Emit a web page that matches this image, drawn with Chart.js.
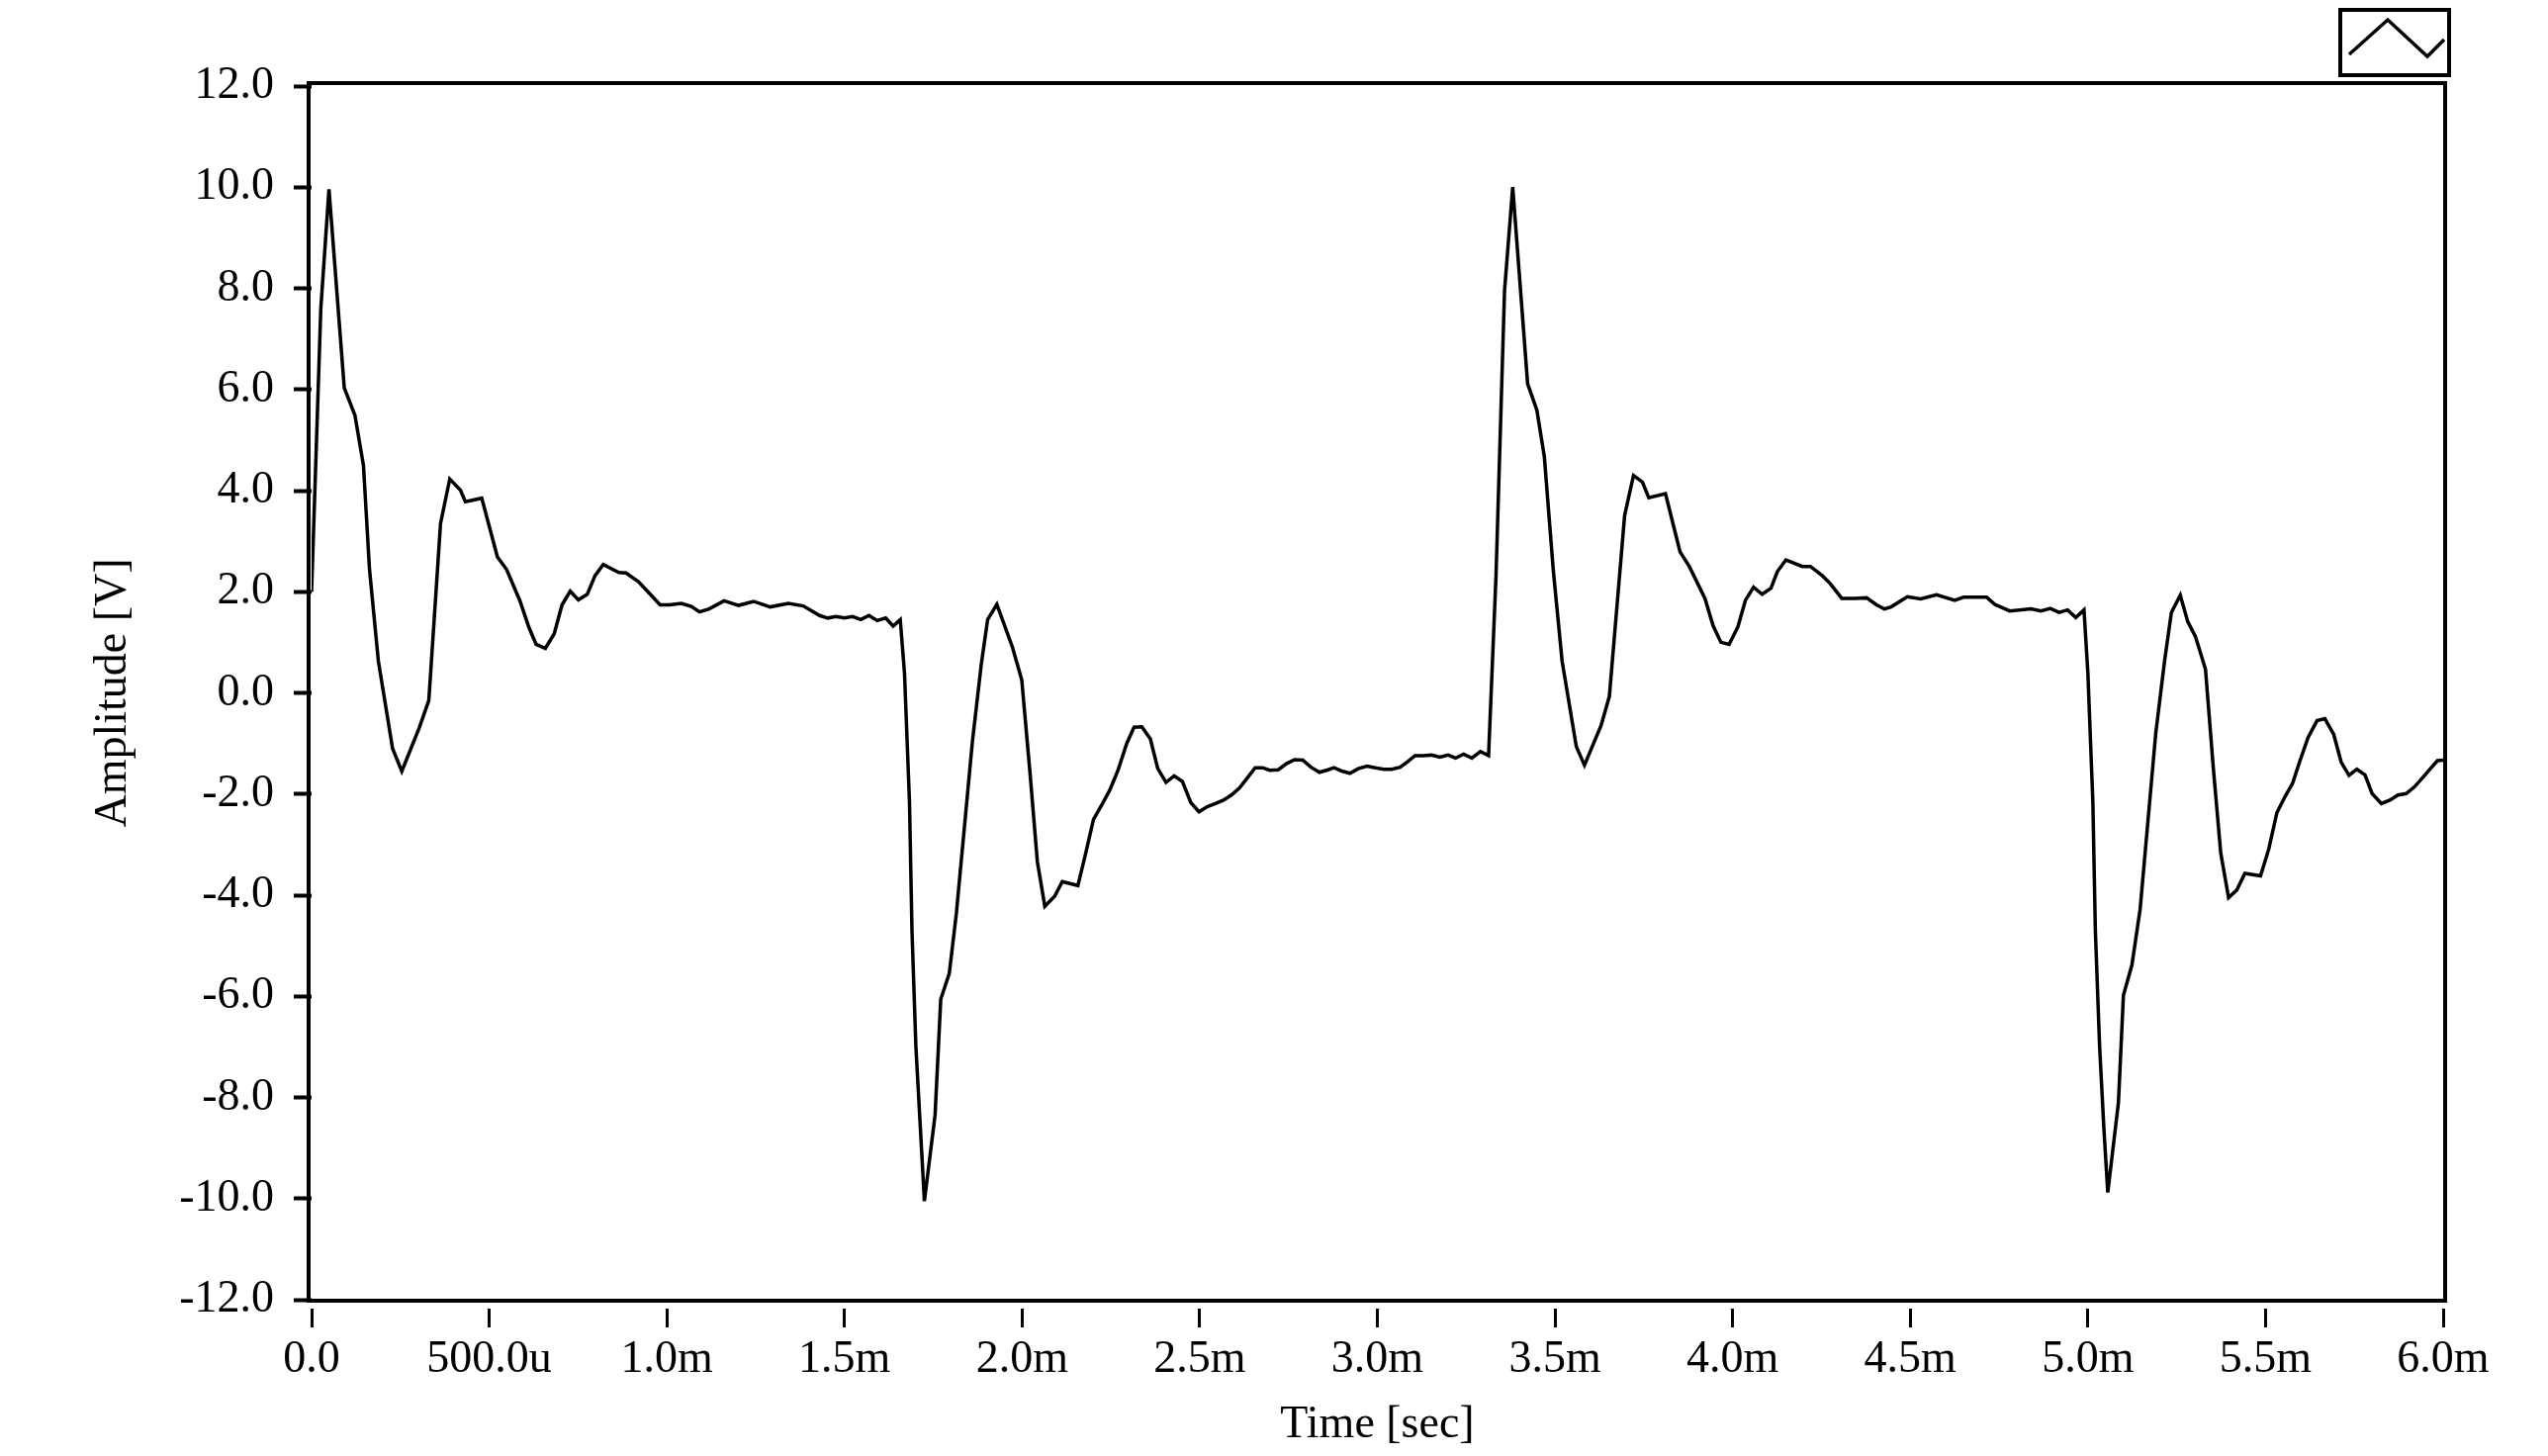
<!DOCTYPE html>
<html lang="en">

<head>
    <meta charset="UTF-8">
    <meta name="viewport" content="width=device-width, initial-scale=1.0">
    <script src="https://cdn.jsdelivr.net/npm/chart.js"></script>
    <title>Amplitude vs Time</title>
    <style>
        html, body { margin: 0; padding: 0; background: #fff; }
        canvas { display: block; }
    </style>
</head>

<body>

    <canvas id="myChart" width="2576" height="1472"></canvas>

    <script>

        // time in ms
        const timeMs = [
            0.000, 0.026, 0.049, 0.092, 0.122, 0.146, 0.163, 0.188, 0.228, 0.254,
            0.303, 0.330, 0.363, 0.389, 0.419, 0.433, 0.479, 0.501, 0.523, 0.549,
            0.586, 0.612, 0.632, 0.658, 0.683, 0.705, 0.728, 0.751, 0.776, 0.798,
            0.821, 0.865, 0.885, 0.920, 0.948, 0.981, 1.008, 1.041, 1.069, 1.092,
            1.119, 1.161, 1.202, 1.244, 1.291, 1.342, 1.384, 1.430, 1.453, 1.476,
            1.500, 1.523, 1.546, 1.569, 1.592, 1.616, 1.637, 1.657, 1.669, 1.683,
            1.690, 1.701, 1.713, 1.725, 1.755, 1.771, 1.795, 1.815, 1.860, 1.885,
            1.903, 1.929, 1.973, 1.999, 2.022, 2.043, 2.064, 2.092, 2.113, 2.157,
            2.179, 2.201, 2.224, 2.247, 2.270, 2.294, 2.315, 2.337, 2.361, 2.382,
            2.405, 2.428, 2.451, 2.475, 2.498, 2.521, 2.544, 2.567, 2.591, 2.612,
            2.632, 2.656, 2.677, 2.697, 2.721, 2.744, 2.767, 2.790, 2.813, 2.837,
            2.857, 2.878, 2.902, 2.923, 2.946, 2.971, 2.994, 3.018, 3.041, 3.064,
            3.085, 3.106, 3.129, 3.152, 3.176, 3.199, 3.220, 3.243, 3.266, 3.290,
            3.313, 3.334, 3.358, 3.381, 3.423, 3.449, 3.470, 3.495, 3.520, 3.560,
            3.583, 3.630, 3.653, 3.696, 3.721, 3.746, 3.764, 3.811, 3.832, 3.852,
            3.878, 3.922, 3.945, 3.967, 3.990, 4.015, 4.036, 4.059, 4.083, 4.108,
            4.126, 4.150, 4.196, 4.219, 4.252, 4.275, 4.307, 4.344, 4.377, 4.405,
            4.427, 4.446, 4.492, 4.529, 4.574, 4.625, 4.650, 4.715, 4.738, 4.780,
            4.840, 4.868, 4.894, 4.919, 4.943, 4.966, 4.989, 5.000, 5.014, 5.021,
            5.033, 5.045, 5.056, 5.086, 5.100, 5.124, 5.147, 5.191, 5.216, 5.235,
            5.260, 5.281, 5.303, 5.331, 5.353, 5.374, 5.396, 5.419, 5.442, 5.486,
            5.509, 5.532, 5.555, 5.576, 5.599, 5.620, 5.645, 5.667, 5.692, 5.713,
            5.735, 5.757, 5.780, 5.800, 5.826, 5.850, 5.873, 5.896, 5.919, 5.942,
            5.964, 5.984, 6.000
        ];

        // amplitude in V
        const amplitude = [
            2.00, 7.60, 9.96, 6.03, 5.49, 4.50, 2.45, 0.63, -1.10, -1.55,
            -0.69, -0.15, 3.35, 4.23, 4.01, 3.78, 3.85, 3.27, 2.69, 2.44,
            1.83, 1.29, 0.96, 0.88, 1.17, 1.74, 2.01, 1.84, 1.95, 2.32,
            2.54, 2.38, 2.37, 2.20, 1.99, 1.74, 1.74, 1.77, 1.71, 1.60,
            1.66, 1.82, 1.73, 1.81, 1.70, 1.77, 1.72, 1.53, 1.48, 1.51,
            1.48, 1.51, 1.45, 1.53, 1.43, 1.48, 1.32, 1.45, 0.39, -2.16,
            -4.70, -6.99, -8.52, -10.05, -8.35, -6.06, -5.55, -4.36, -0.97, 0.56,
            1.45, 1.75, 0.90, 0.26, -1.56, -3.34, -4.22, -4.02, -3.73, -3.81,
            -3.17, -2.50, -2.22, -1.92, -1.53, -1.01, -0.68, -0.67, -0.91, -1.50,
            -1.77, -1.64, -1.75, -2.17, -2.35, -2.25, -2.19, -2.12, -2.01, -1.88,
            -1.70, -1.48, -1.48, -1.53, -1.52, -1.40, -1.32, -1.33, -1.47, -1.57,
            -1.53, -1.48, -1.55, -1.59, -1.50, -1.45, -1.48, -1.51, -1.51, -1.47,
            -1.36, -1.24, -1.24, -1.23, -1.27, -1.23, -1.29, -1.21, -1.29, -1.16,
            -1.24, 2.32, 7.96, 10.00, 6.11, 5.59, 4.67, 2.44, 0.63, -1.06,
            -1.43, -0.64, -0.07, 3.51, 4.30, 4.17, 3.86, 3.94, 3.35, 2.79,
            2.50, 1.87, 1.33, 1.00, 0.96, 1.31, 1.83, 2.09, 1.95, 2.07,
            2.40, 2.63, 2.50, 2.50, 2.32, 2.16, 1.87, 1.87, 1.88, 1.74,
            1.66, 1.70, 1.90, 1.86, 1.94, 1.83, 1.89, 1.89, 1.75, 1.62,
            1.66, 1.62, 1.67, 1.59, 1.64, 1.49, 1.64, 0.39, -2.16, -4.70,
            -6.99, -8.61, -9.88, -8.10, -5.98, -5.38, -4.28, -0.80, 0.64, 1.59,
            1.93, 1.41, 1.11, 0.47, -1.48, -3.17, -4.05, -3.90, -3.57, -3.62,
            -3.09, -2.37, -2.05, -1.79, -1.30, -0.88, -0.55, -0.51, -0.82, -1.37,
            -1.63, -1.51, -1.62, -1.99, -2.19, -2.12, -2.02, -1.99, -1.86, -1.68,
            -1.50, -1.34, -1.33
        ];

        const xTickLabels = ['0.0', '500.0u', '1.0m', '1.5m', '2.0m', '2.5m', '3.0m',
            '3.5m', '4.0m', '4.5m', '5.0m', '5.5m', '6.0m'];
        const yTickLabels = ['-12.0', '-10.0', '-8.0', '-6.0', '-4.0', '-2.0', '0.0',
            '2.0', '4.0', '6.0', '8.0', '10.0', '12.0'];

        const points = timeMs.map((t, i) => ({ x: t, y: amplitude[i] }));

        Chart.defaults.font.family = '"Liberation Serif", serif';
        Chart.defaults.color = '#000';

        // frame around the plot + small legend box in the corner
        const framePlugin = {
            id: 'frame',
            afterDraw(chart) {
                const { ctx, chartArea: a } = chart;
                ctx.save();
                ctx.strokeStyle = '#000';
                ctx.lineWidth = 4;
                ctx.strokeRect(a.left - 3, a.top - 3, a.right - a.left + 5, a.bottom - a.top + 4);

                // legend box
                const bx = a.right - 104, by = 10, bw = 110, bh = 66;
                ctx.lineWidth = 4;
                ctx.strokeRect(bx, by, bw, bh);
                ctx.lineWidth = 3.5;
                ctx.beginPath();
                ctx.moveTo(bx + 9, by + 45);
                ctx.lineTo(bx + 48, by + 10);
                ctx.lineTo(bx + 88, by + 47);
                ctx.lineTo(bx + 105, by + 30);
                ctx.stroke();
                ctx.restore();
            }
        };

        const ctx = document.getElementById('myChart');

        new Chart(ctx, {
            type: 'line',
            data: {
                datasets: [{
                    label: 'Amplitude',
                    data: points,
                    fill: false,
                    borderWidth: 3.5,
                    borderColor: '#000',
                    pointRadius: 0,
                    tension: 0
                }]
            },
            options: {
                responsive: false,
                animation: false,
                devicePixelRatio: 1,
                layout: { padding: { top: 87, right: 106, bottom: 0, left: 0 } },
                plugins: {
                    legend: { display: false },
                    tooltip: { enabled: false }
                },
                scales: {
                    x: {
                        type: 'linear',
                        min: 0,
                        max: 6,
                        afterFit: s => { s.height = 158; },
                        border: { display: false },
                        grid: {
                            drawOnChartArea: false,
                            drawTicks: true,
                            tickLength: 28,
                            tickWidth: 3,
                            tickColor: '#000',
                            tickBorderDash: [19, 9],
                            tickBorderDashOffset: 19
                        },
                        ticks: {
                            stepSize: 0.5,
                            autoSkip: false,
                            maxRotation: 0,
                            padding: 5,
                            font: { size: 46 },
                            callback: (v, i) => xTickLabels[i]
                        },
                        title: {
                            display: true,
                            text: 'Time [sec]',
                            font: { size: 46 },
                            padding: { top: 0, bottom: 3 }
                        }
                    },
                    y: {
                        min: -12,
                        max: 12,
                        afterFit: s => { s.width = 315; },
                        border: { display: false },
                        grid: {
                            drawOnChartArea: false,
                            drawTicks: true,
                            tickLength: 24,
                            tickWidth: 4,
                            tickColor: '#000',
                            tickBorderDash: [18, 6],
                            tickBorderDashOffset: 18
                        },
                        ticks: {
                            stepSize: 2,
                            autoSkip: false,
                            padding: 14,
                            font: { size: 46 },
                            callback: (v, i) => yTickLabels[i]
                        },
                        title: {
                            display: true,
                            text: 'Amplitude [V]',
                            font: { size: 46 },
                            padding: { top: 87, bottom: 0 }
                        }
                    }
                }
            },
            plugins: [framePlugin]
        });

    </script>


</body>

</html>
